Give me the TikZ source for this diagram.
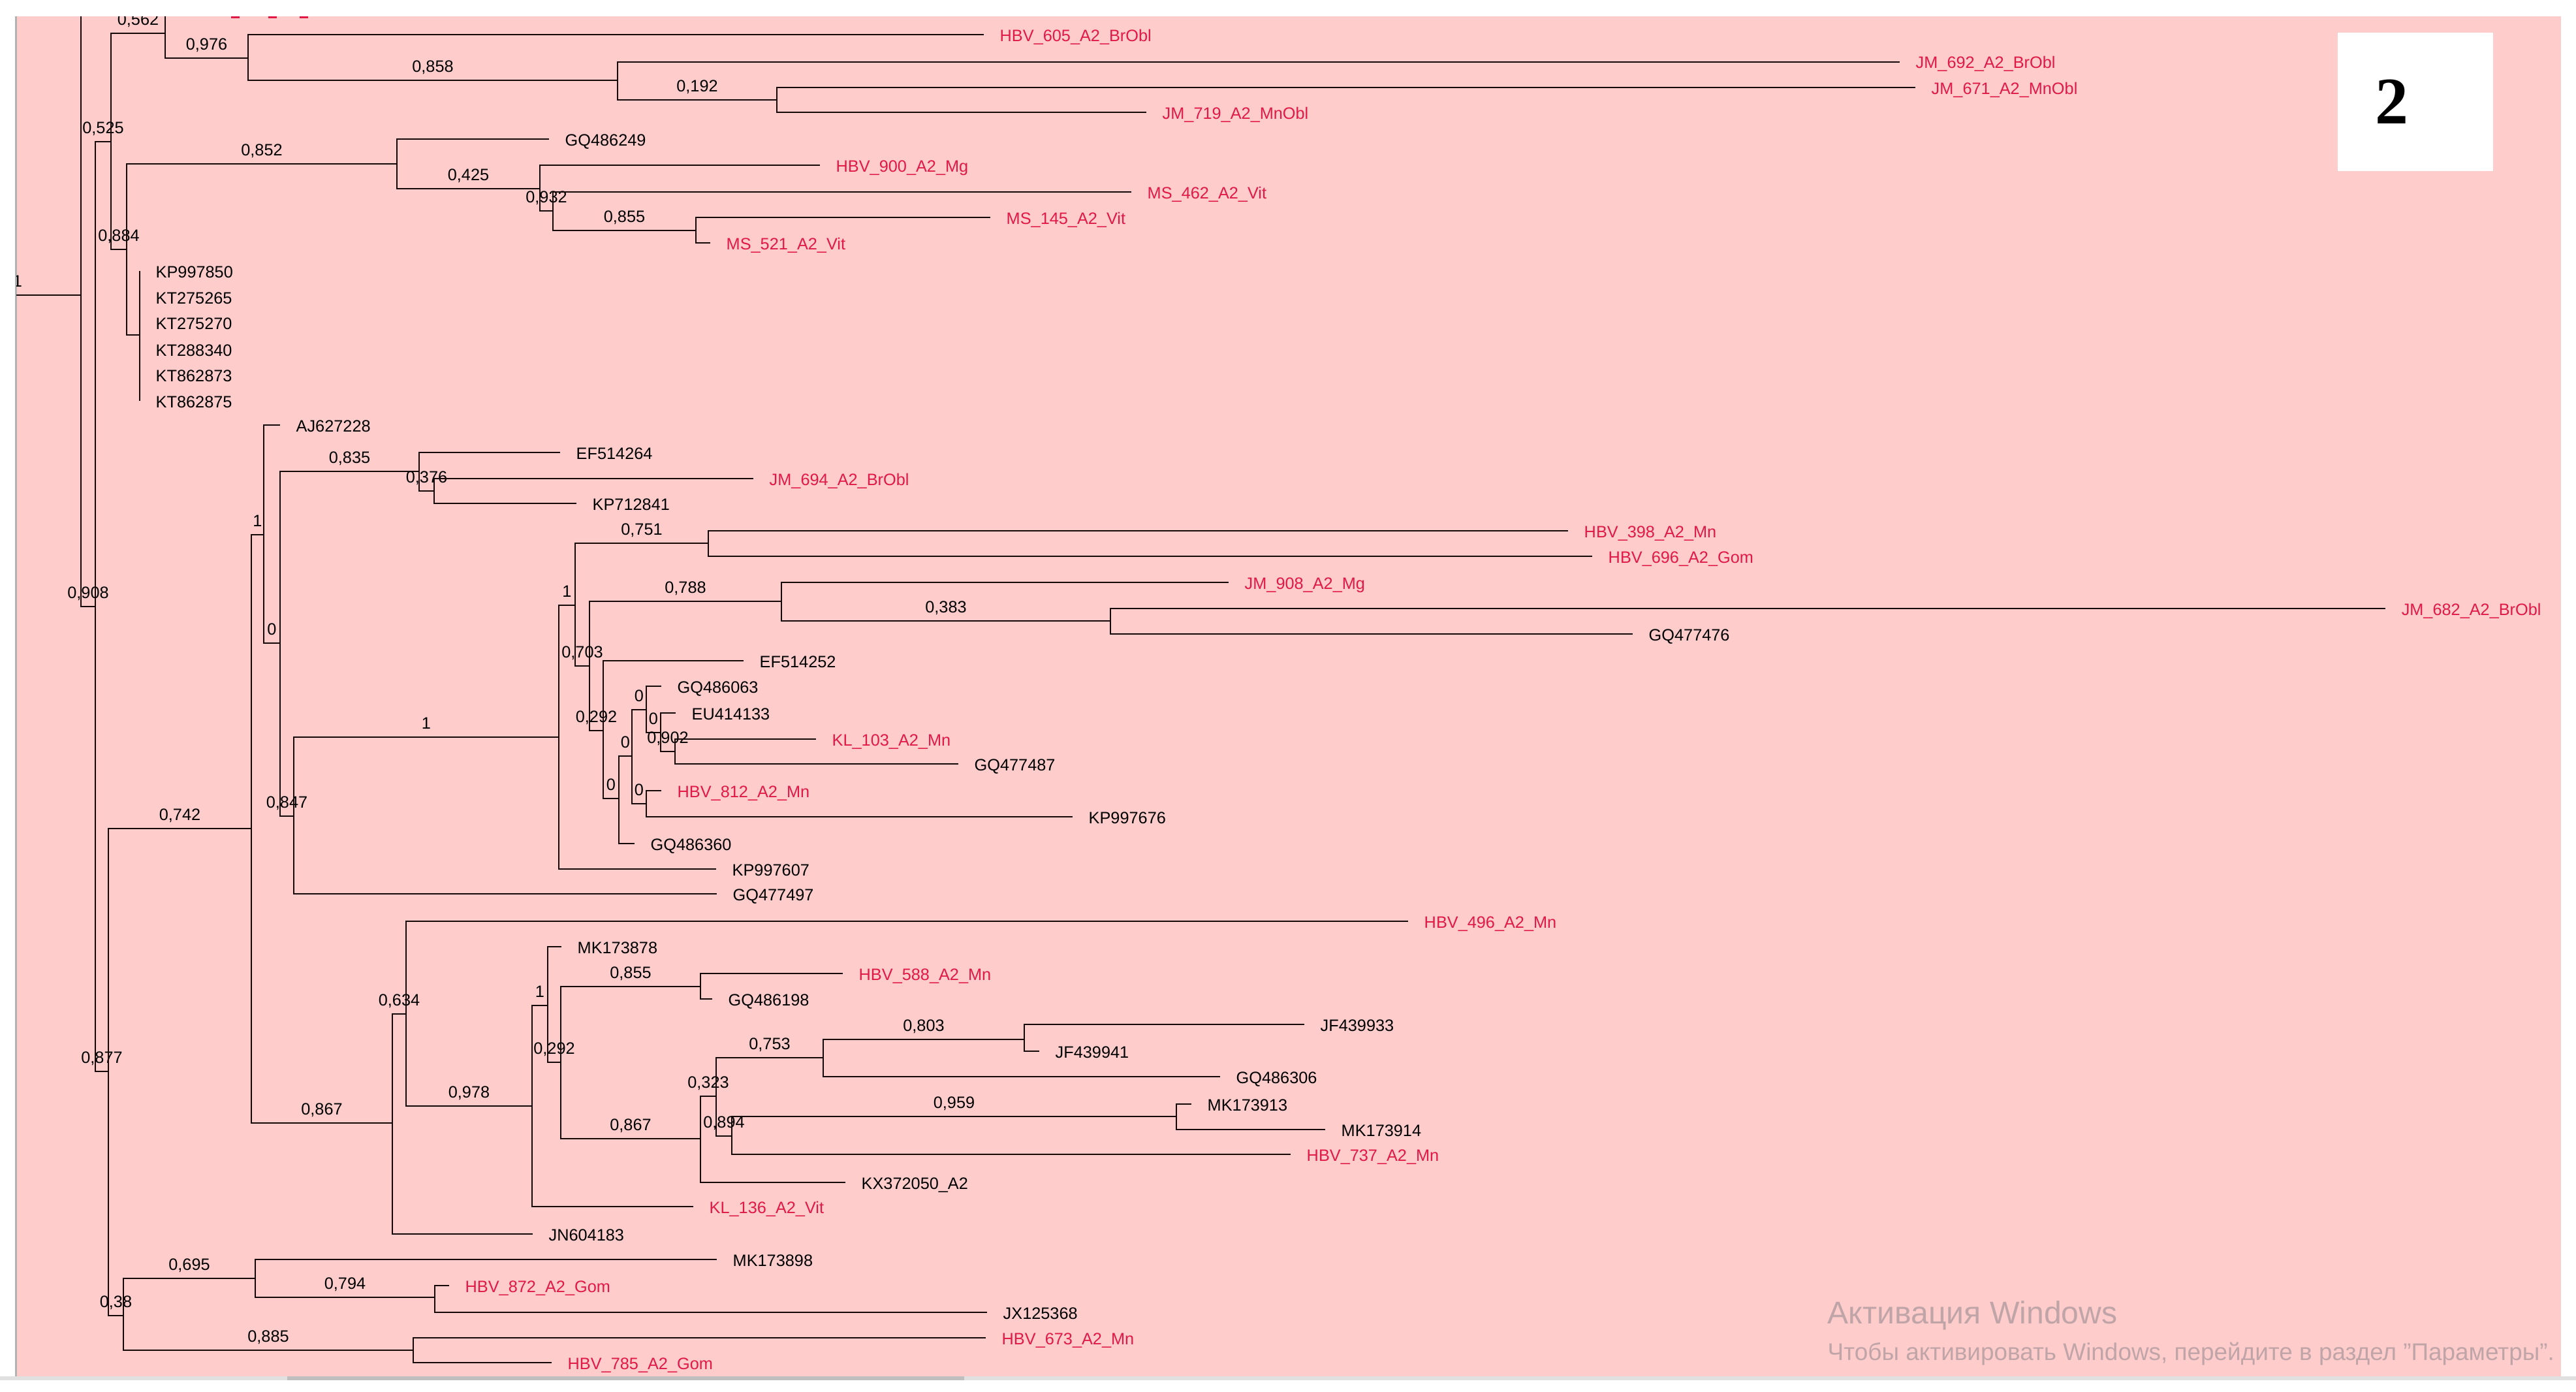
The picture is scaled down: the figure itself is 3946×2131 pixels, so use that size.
\documentclass[tikz,border=0pt]{standalone}
\usepackage{fontspec}
\setmainfont{Liberation Sans}
\newfontfamily\lab{Liberation Sans}
\newfontfamily\serifb{Liberation Serif}
\definecolor{bgpink}{RGB}{255,204,204}
\definecolor{hbvred}{RGB}{225,25,70}
\definecolor{wmgray}{RGB}{192,165,168}
\definecolor{linecol}{RGB}{20,8,8}
\tikzset{
 br/.style={draw=linecol, line width=0.75pt},
 brlab/.style={anchor=base, inner sep=0pt, yshift=1.3mm, font=\lab\fontsize{7.2}{8}\selectfont, text=black},
 leaflab/.style={anchor=base west, inner sep=0pt, xshift=2.4mm, yshift=-1mm, font=\lab\fontsize{7.2}{8}\selectfont, text=black},
 redlab/.style={leaflab, text=hbvred},
}
\newcommand\tleaf[5]{\coordinate (#1) at (#2,#3); \node[#5] (#1t) at (#1) {#4};}
\newcommand\tedge[3]{\draw[br] (#1) |- node[brlab,pos=0.75] (#2l) {#3} (#2);}
\newcommand\tlink[2]{\draw[br] (#1) |- (#2);}
\begin{document}
\begin{tikzpicture}[x=0.1mm,y=-0.1mm]
\useasboundingbox (0,0) rectangle (3946,2131);
\fill[white] (0,0) rectangle (3946,2131);
\fill[bgpink] (25,25) rectangle (3923,2108);
\fill[black!12] (0,2108) rectangle (3946,2114);
\fill[black!25] (440,2108) rectangle (1477,2114);
\fill[black!30] (23,25) rectangle (26,2108);
\begin{scope}
\clip (25,25) rectangle (3923,2108);
% internal nodes
\coordinate (r0) at (24,452);
\coordinate (r) at (124,452);
\coordinate (rtop) at (124,0);
\coordinate (n908) at (146,929);
\coordinate (n525) at (170,217);
\coordinate (n562) at (253,51);
\coordinate (hid) at (300,8);
\coordinate (n976) at (380,89);
\coordinate (n858) at (946,123);
\coordinate (n192) at (1190,153);
\coordinate (n884) at (194,382);
\coordinate (n852) at (608,251);
\coordinate (n425) at (827,289);
\coordinate (n932) at (847,323);
\coordinate (n855a) at (1066,353);
\coordinate (pA) at (214,513);
\coordinate (n877) at (166,1641);
\coordinate (n742) at (385,1269);
\coordinate (n1a) at (404,819);
\coordinate (n0a) at (429,985);
\coordinate (n835) at (642,722);
\coordinate (n376) at (665,752);
\coordinate (n847) at (450,1250);
\coordinate (n1b) at (856,1129);
\coordinate (n1c) at (881,927);
\coordinate (n751) at (1085,832);
\coordinate (n703) at (903,1020);
\coordinate (n788) at (1197,921);
\coordinate (n383) at (1701,951);
\coordinate (n292a) at (924,1119);
\coordinate (n0b) at (948,1223);
\coordinate (n0c) at (968,1158);
\coordinate (n0d) at (990,1087);
\coordinate (n0e) at (990,1231);
\coordinate (n0f) at (1012,1122);
\coordinate (n902) at (1034,1151);
\coordinate (n867a) at (601,1720);
\coordinate (n634) at (622,1553);
\coordinate (n978) at (815,1694);
\coordinate (n1d) at (839,1540);
\coordinate (n292b) at (859,1627);
\coordinate (n855b) at (1073,1511);
\coordinate (n867b) at (1073,1744);
\coordinate (n323) at (1097,1679);
\coordinate (n753) at (1261,1620);
\coordinate (n894) at (1121,1740);
\coordinate (n803) at (1569,1592);
\coordinate (n959) at (1802,1710);
\coordinate (n38) at (189,2015);
\coordinate (n695) at (391,1958);
\coordinate (n794) at (666,1987);
\coordinate (n885) at (633,2068);
% leaves
\tleaf{l605}{1507}{53}{HBV\_605\_A2\_BrObl}{redlab}
\tleaf{l692}{2910}{95}{JM\_692\_A2\_BrObl}{redlab}
\tleaf{l671}{2934}{134}{JM\_671\_A2\_MnObl}{redlab}
\tleaf{l719}{1756}{172}{JM\_719\_A2\_MnObl}{redlab}
\tleaf{l6249}{841}{213}{GQ486249}{leaflab}
\tleaf{l900}{1256}{253}{HBV\_900\_A2\_Mg}{redlab}
\tleaf{l462}{1733}{294}{MS\_462\_A2\_Vit}{redlab}
\tleaf{l145}{1517}{333}{MS\_145\_A2\_Vit}{redlab}
\tleaf{l521}{1088}{372}{MS\_521\_A2\_Vit}{redlab}
\tleaf{k1}{214}{415}{KP997850}{leaflab}
\tleaf{k2}{214}{455}{KT275265}{leaflab}
\tleaf{k3}{214}{494}{KT275270}{leaflab}
\tleaf{k4}{214}{535}{KT288340}{leaflab}
\tleaf{k5}{214}{574}{KT862873}{leaflab}
\tleaf{k6}{214}{614}{KT862875}{leaflab}
\tleaf{lAJ}{429}{651}{AJ627228}{leaflab}
\tleaf{lEF64}{858}{693}{EF514264}{leaflab}
\tleaf{l694}{1154}{733}{JM\_694\_A2\_BrObl}{redlab}
\tleaf{lKP41}{883}{771}{KP712841}{leaflab}
\tleaf{l398}{2402}{813}{HBV\_398\_A2\_Mn}{redlab}
\tleaf{l696}{2439}{852}{HBV\_696\_A2\_Gom}{redlab}
\tleaf{l908}{1882}{892}{JM\_908\_A2\_Mg}{redlab}
\tleaf{l682}{3654}{932}{JM\_682\_A2\_BrObl}{redlab}
\tleaf{lGQ76}{2501}{971}{GQ477476}{leaflab}
\tleaf{lEF52}{1139}{1012}{EF514252}{leaflab}
\tleaf{lGQ63}{1013}{1051}{GQ486063}{leaflab}
\tleaf{lEU}{1035}{1092}{EU414133}{leaflab}
\tleaf{l103}{1250}{1132}{KL\_103\_A2\_Mn}{redlab}
\tleaf{lGQ87}{1468}{1170}{GQ477487}{leaflab}
\tleaf{l812}{1013}{1211}{HBV\_812\_A2\_Mn}{redlab}
\tleaf{lKP76}{1643}{1251}{KP997676}{leaflab}
\tleaf{lGQ60}{972}{1292}{GQ486360}{leaflab}
\tleaf{lKP07}{1097}{1331}{KP997607}{leaflab}
\tleaf{lGQ97}{1098}{1369}{GQ477497}{leaflab}
\tleaf{l496}{2157}{1411}{HBV\_496\_A2\_Mn}{redlab}
\tleaf{lMK78}{860}{1450}{MK173878}{leaflab}
\tleaf{l588}{1291}{1491}{HBV\_588\_A2\_Mn}{redlab}
\tleaf{lGQ98}{1091}{1530}{GQ486198}{leaflab}
\tleaf{lJF33}{1998}{1569}{JF439933}{leaflab}
\tleaf{lJF41}{1592}{1610}{JF439941}{leaflab}
\tleaf{lGQ06}{1869}{1649}{GQ486306}{leaflab}
\tleaf{lMK13}{1825}{1691}{MK173913}{leaflab}
\tleaf{lMK14}{2030}{1730}{MK173914}{leaflab}
\tleaf{l737}{1977}{1768}{HBV\_737\_A2\_Mn}{redlab}
\tleaf{lKX}{1295}{1811}{KX372050\_A2}{leaflab}
\tleaf{l136}{1062}{1848}{KL\_136\_A2\_Vit}{redlab}
\tleaf{lJN}{816}{1890}{JN604183}{leaflab}
\tleaf{lMK98}{1098}{1929}{MK173898}{leaflab}
\tleaf{l872}{688}{1969}{HBV\_872\_A2\_Gom}{redlab}
\tleaf{lJX}{1512}{2010}{JX125368}{leaflab}
\tleaf{l673}{1510}{2049}{HBV\_673\_A2\_Mn}{redlab}
\tleaf{l785}{845}{2087}{HBV\_785\_A2\_Gom}{redlab}
% edges
\draw[br] (r0) -- (r);
\node[brlab] (rootlab) at (27,452) {1};
\tlink{r}{rtop}
\tedge{r}{n908}{0,908}
\tedge{n908}{n525}{0,525}
\tedge{n908}{n877}{0,877}
\tedge{n525}{n562}{0,562}
\tedge{n525}{n884}{0,884}
\tlink{n562}{hid}
\tedge{n562}{n976}{0,976}
\tlink{n976}{l605}
\tedge{n976}{n858}{0,858}
\tlink{n858}{l692}
\tedge{n858}{n192}{0,192}
\tlink{n192}{l671}
\tlink{n192}{l719}
\tedge{n884}{n852}{0,852}
\tlink{n884}{pA}
\tlink{n852}{l6249}
\tedge{n852}{n425}{0,425}
\tlink{n425}{l900}
\tedge{n425}{n932}{0,932}
\tlink{n932}{l462}
\tedge{n932}{n855a}{0,855}
\tlink{n855a}{l145}
\tlink{n855a}{l521}
\tlink{pA}{k1}
\tlink{pA}{k2}
\tlink{pA}{k3}
\tlink{pA}{k4}
\tlink{pA}{k5}
\tlink{pA}{k6}
\tedge{n877}{n742}{0,742}
\tedge{n877}{n38}{0,38}
\tedge{n742}{n1a}{1}
\tedge{n742}{n867a}{0,867}
\tlink{n1a}{lAJ}
\tedge{n1a}{n0a}{0}
\tedge{n0a}{n835}{0,835}
\tedge{n0a}{n847}{0,847}
\tlink{n835}{lEF64}
\tedge{n835}{n376}{0,376}
\tlink{n376}{l694}
\tlink{n376}{lKP41}
\tedge{n847}{n1b}{1}
\tlink{n847}{lGQ97}
\tedge{n1b}{n1c}{1}
\tlink{n1b}{lKP07}
\tedge{n1c}{n751}{0,751}
\tedge{n1c}{n703}{0,703}
\tlink{n751}{l398}
\tlink{n751}{l696}
\tedge{n703}{n788}{0,788}
\tedge{n703}{n292a}{0,292}
\tlink{n788}{l908}
\tedge{n788}{n383}{0,383}
\tlink{n383}{l682}
\tlink{n383}{lGQ76}
\tlink{n292a}{lEF52}
\tedge{n292a}{n0b}{0}
\tedge{n0b}{n0c}{0}
\tlink{n0b}{lGQ60}
\tedge{n0c}{n0d}{0}
\tedge{n0c}{n0e}{0}
\tlink{n0d}{lGQ63}
\tedge{n0d}{n0f}{0}
\tlink{n0f}{lEU}
\tedge{n0f}{n902}{0,902}
\tlink{n902}{l103}
\tlink{n902}{lGQ87}
\tlink{n0e}{l812}
\tlink{n0e}{lKP76}
\tedge{n867a}{n634}{0,634}
\tlink{n867a}{lJN}
\tlink{n634}{l496}
\tedge{n634}{n978}{0,978}
\tedge{n978}{n1d}{1}
\tlink{n978}{l136}
\tlink{n1d}{lMK78}
\tedge{n1d}{n292b}{0,292}
\tedge{n292b}{n855b}{0,855}
\tedge{n292b}{n867b}{0,867}
\tlink{n855b}{l588}
\tlink{n855b}{lGQ98}
\tedge{n867b}{n323}{0,323}
\tlink{n867b}{lKX}
\tedge{n323}{n753}{0,753}
\tedge{n323}{n894}{0,894}
\tedge{n753}{n803}{0,803}
\tlink{n753}{lGQ06}
\tlink{n803}{lJF33}
\tlink{n803}{lJF41}
\tedge{n894}{n959}{0,959}
\tlink{n894}{l737}
\tlink{n959}{lMK13}
\tlink{n959}{lMK14}
\tedge{n38}{n695}{0,695}
\tedge{n38}{n885}{0,885}
\tlink{n695}{lMK98}
\tedge{n695}{n794}{0,794}
\tlink{n794}{l872}
\tlink{n794}{lJX}
\tlink{n885}{l673}
\tlink{n885}{l785}
\end{scope}
% bottoms of the clipped top label
\fill[hbvred] (354,25) rectangle (367,28);
\fill[hbvred] (411,25) rectangle (424,28);
\fill[hbvred] (459,25) rectangle (472,28);
% figure number box
\fill[white] (3581,50) rectangle (3819,262);
\node[inner sep=0pt, font=\serifb\bfseries\fontsize{29}{30}\selectfont] (fignum) at (3664,156) {2};
% watermark
\node[anchor=base west, inner sep=0pt, text=wmgray, font=\fontsize{13.7}{15}\selectfont] (wm1) at (2799,2027) {Активация Windows};
\node[anchor=base west, inner sep=0pt, text=wmgray, font=\fontsize{10.5}{12}\selectfont] (wm2) at (2799,2083) {Чтобы активировать Windows, перейдите в раздел "Параметры".};
\end{tikzpicture}
\end{document}
